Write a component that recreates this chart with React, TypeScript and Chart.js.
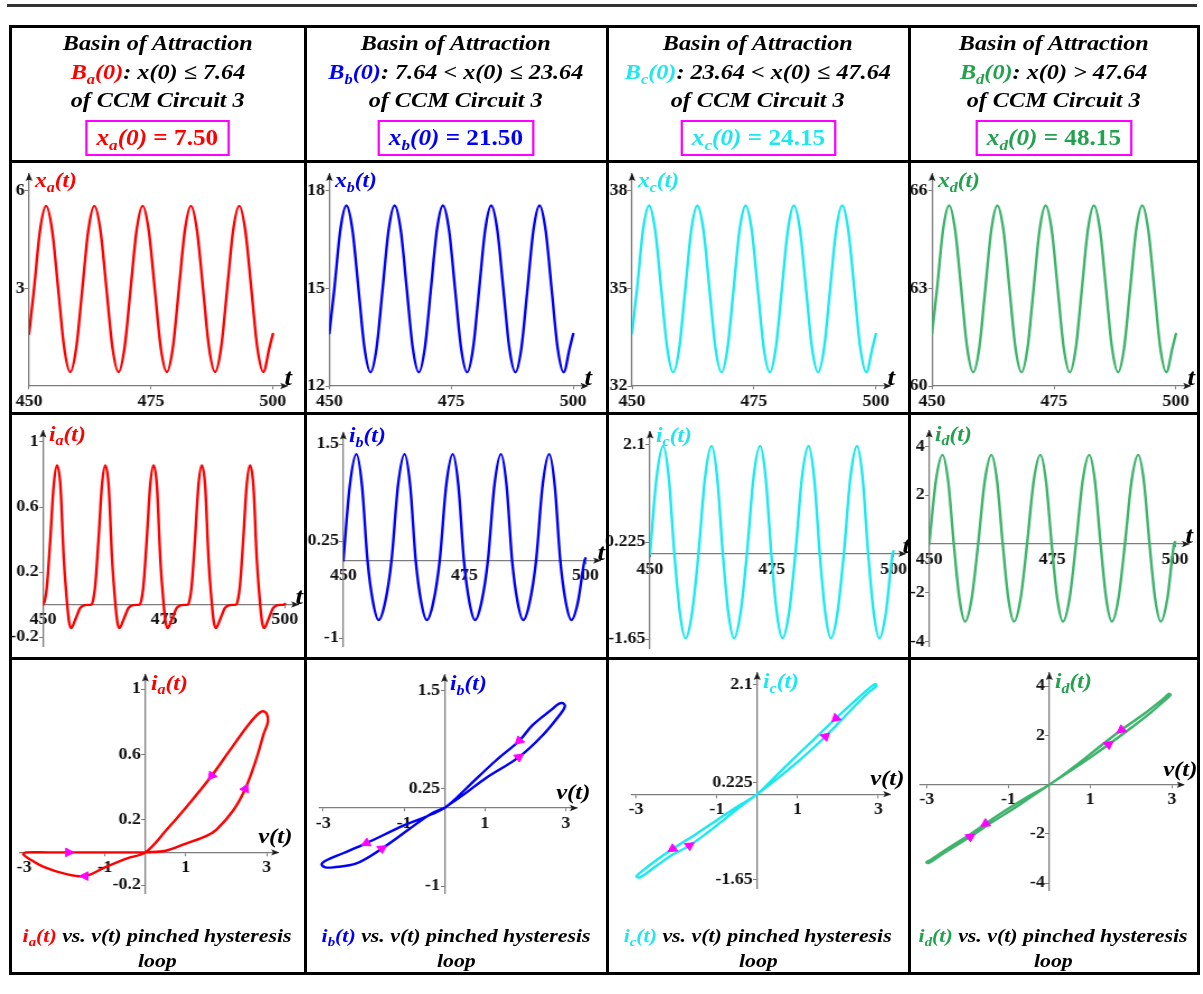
import React, { useEffect, useRef } from 'react';
import { Chart, registerables } from 'chart.js';

Chart.register(...registerables);

const SERIF = '"Liberation Serif", "Times New Roman", Times, serif';
const STRETCH = 1.12;
const PAGE_W = 1203;
const PAGE_H = 994;
const AXIS_GREY = '#7d7d7d';

const RED = '#ff0000';
const BLUE = '#0000f5';
const CYAN = '#1ee8ee';
const GREEN = '#3fb36c';
const GREEN_TEXT = '#23a14f';
const MAGENTA = '#ff00ff';

// ---------------- data ----------------
const letters = ['a', 'b', 'c', 'd'];
const basinRanges = [': x(0) \u2264 7.64', ': 7.64 < x(0) \u2264 23.64', ': 23.64 < x(0) \u2264 47.64', ': x(0) > 47.64'];
const initialValues = ['7.50', '21.50', '24.15', '48.15'];

const timeTicks = [450, 475, 500];
const voltTicks = [-3, -1, 1, 3];
const xTicksA = [3, 6];
const xTicksB = [12, 15, 18];
const xTicksC = [32, 35, 38];
const xTicksD = [60, 63, 66];
const iTicksA = [-0.2, 0.2, 0.6, 1];
const iTicksB = [-1, 0.25, 1.5];
const iTicksC = [-1.65, 0.225, 2.1];
const iTicksD = [-4, -2, 2, 4];

// state x(t), sampled at peaks, troughs, crossings and eighth periods
const tX = [
  450, 451.03, 452.26, 453.5, 454.74, 455.98, 457.21, 458.45, 459.69, 460.93, 462.16, 463.4, 464.64, 465.88,
  467.11, 468.35, 469.59, 470.83, 472.06, 473.3, 474.54, 475.78, 477.01, 478.25, 479.49, 480.73, 481.96, 483.2,
  484.44, 485.68, 486.91, 488.15, 489.39, 490.63, 491.86, 493.1, 494.34, 495.58, 496.81, 498.05, 499.29, 500,
];
const xA = [
  1.6, 2.99, 4.79, 5.54, 4.79, 2.99, 1.18, 0.43, 1.18, 2.99, 4.79, 5.54, 4.79, 2.99, 1.18, 0.43, 1.18, 2.99, 4.79,
  5.54, 4.79, 2.99, 1.18, 0.43, 1.18, 2.99, 4.79, 5.54, 4.79, 2.99, 1.18, 0.43, 1.18, 2.99, 4.79, 5.54, 4.79, 2.99,
  1.18, 0.43, 1.18, 1.6,
];
const xB = [
  13.62, 14.99, 16.8, 17.55, 16.8, 14.99, 13.17, 12.42, 13.17, 14.99, 16.8, 17.55, 16.8, 14.99, 13.17, 12.42, 13.17,
  14.99, 16.8, 17.55, 16.8, 14.99, 13.17, 12.42, 13.17, 14.99, 16.8, 17.55, 16.8, 14.99, 13.17, 12.42, 13.17, 14.99,
  16.8, 17.55, 16.8, 14.99, 13.17, 12.42, 13.17, 13.6,
];
const xC = [
  33.62, 34.99, 36.8, 37.55, 36.8, 34.99, 33.17, 32.42, 33.17, 34.99, 36.8, 37.55, 36.8, 34.99, 33.17, 32.42, 33.17,
  34.99, 36.8, 37.55, 36.8, 34.99, 33.17, 32.42, 33.17, 34.99, 36.8, 37.55, 36.8, 34.99, 33.17, 32.42, 33.17, 34.99,
  36.8, 37.55, 36.8, 34.99, 33.17, 32.42, 33.17, 33.6,
];
const xD = [
  61.62, 62.99, 64.8, 65.55, 64.8, 62.99, 61.17, 60.42, 61.17, 62.99, 64.8, 65.55, 64.8, 62.99, 61.17, 60.42, 61.17,
  62.99, 64.8, 65.55, 64.8, 62.99, 61.17, 60.42, 61.17, 62.99, 64.8, 65.55, 64.8, 62.99, 61.17, 60.42, 61.17, 62.99,
  64.8, 65.55, 64.8, 62.99, 61.17, 60.42, 61.17, 61.6,
];

// current i_a(t): narrow positive pulse, small negative dip, flat shoulder
const tIA = [
  450, 450.4, 450.8, 451.5, 452.2, 452.9, 453.6, 454.3, 455.0, 455.4, 455.8, 456.7, 457.7, 458.4, 459.2,
  459.97, 460.37, 460.77, 461.47, 462.17, 462.87, 463.57, 464.27, 464.97, 465.37, 465.77, 466.67, 467.67, 468.37, 469.17,
  469.94, 470.34, 470.74, 471.44, 472.14, 472.84, 473.54, 474.24, 474.94, 475.34, 475.74, 476.64, 477.64, 478.34, 479.14,
  479.91, 480.31, 480.71, 481.41, 482.11, 482.81, 483.51, 484.21, 484.91, 485.31, 485.71, 486.61, 487.61, 488.31, 489.11,
  489.88, 490.28, 490.68, 491.38, 492.08, 492.78, 493.48, 494.18, 494.88, 495.28, 495.68, 496.58, 497.58, 498.28, 499.08,
  499.85, 500,
];
const iA = [
  0, 0.03, 0.11, 0.4, 0.73, 0.855, 0.73, 0.28, 0, -0.11, -0.145, -0.09, -0.02, -0.006, -0.002,
  0, 0.03, 0.11, 0.4, 0.73, 0.855, 0.73, 0.28, 0, -0.11, -0.145, -0.09, -0.02, -0.006, -0.002,
  0, 0.03, 0.11, 0.4, 0.73, 0.855, 0.73, 0.28, 0, -0.11, -0.145, -0.09, -0.02, -0.006, -0.002,
  0, 0.03, 0.11, 0.4, 0.73, 0.855, 0.73, 0.28, 0, -0.11, -0.145, -0.09, -0.02, -0.006, -0.002,
  0, 0.03, 0.11, 0.4, 0.73, 0.855, 0.73, 0.28, 0, -0.11, -0.145, -0.09, -0.02, -0.006, -0.002,
  0, 0.004,
];

// currents i_b, i_c, i_d(t)
const tI = [
  450, 451.35, 452.7, 453.85, 455.0, 456.15, 457.3, 458.62, 459.95, 461.3, 462.65, 463.8, 464.95, 466.1, 467.25,
  468.57, 469.9, 471.25, 472.6, 473.75, 474.9, 476.05, 477.2, 478.52, 479.85, 481.2, 482.55, 483.7, 484.85, 486.0,
  487.15, 488.47, 489.8, 491.15, 492.5, 493.65, 494.8, 495.95, 497.1, 498.42, 499.8, 500,
];
const iB = [
  0, 0.97, 1.37, 0.97, 0, -0.54, -0.765, -0.54, 0, 0.97, 1.37, 0.97, 0, -0.54, -0.765, -0.54, 0, 0.97, 1.37, 0.97,
  0, -0.54, -0.765, -0.54, 0, 0.97, 1.37, 0.97, 0, -0.54, -0.765, -0.54, 0, 0.97, 1.37, 0.97, 0, -0.54, -0.765,
  -0.54, 0, 0.03,
];
const iC = [
  0, 1.47, 2.08, 1.47, 0, -1.15, -1.63, -1.15, 0, 1.47, 2.08, 1.47, 0, -1.15, -1.63, -1.15, 0, 1.47, 2.08, 1.47,
  0, -1.15, -1.63, -1.15, 0, 1.47, 2.08, 1.47, 0, -1.15, -1.63, -1.15, 0, 1.47, 2.08, 1.47, 0, -1.15, -1.63,
  -1.15, 0, 0.05,
];
const iD = [
  0, 2.58, 3.65, 2.58, 0, -2.25, -3.18, -2.25, 0, 2.58, 3.65, 2.58, 0, -2.25, -3.18, -2.25, 0, 2.58, 3.65, 2.58,
  0, -2.25, -3.18, -2.25, 0, 2.58, 3.65, 2.58, 0, -2.25, -3.18, -2.25, 0, 2.58, 3.65, 2.58, 0, -2.25, -3.18,
  -2.25, 0, 0.08,
];

// pinched hysteresis loops, listed in the order the trajectory runs
const loopAv = [0, 0.5, 1.02, 1.5, 1.76, 2.18, 2.47, 2.74, 2.93, 3.03, 3.0, 2.9, 2.75, 2.51, 2.1, 1.64, 1.02, 0.53, 0, -0.45, -0.99, -1.49, -2.0, -2.5, -2.8, -3.02, -2.95, -2.4, -1.6, -0.8, 0];
const loopAi = [0, 0.01, 0.056, 0.1, 0.14, 0.26, 0.39, 0.57, 0.73, 0.8, 0.85, 0.865, 0.84, 0.77, 0.63, 0.47, 0.28, 0.14, 0, -0.036, -0.09, -0.145, -0.13, -0.09, -0.05, -0.012, 0, 0, 0, 0, 0];
const loopBv = [0, 0.5, 1.02, 1.84, 2.43, 2.88, 2.98, 2.93, 2.82, 2.68, 2.18, 1.85, 1.28, 0.7, 0.3, 0, -0.45, -0.99, -1.93, -2.51, -2.92, -3.04, -2.95, -2.75, -2.18, -1.55, -0.87, -0.35, 0];
const loopBi = [0, 0.18, 0.38, 0.65, 0.93, 1.21, 1.3, 1.34, 1.33, 1.27, 1.06, 0.86, 0.61, 0.33, 0.13, 0, -0.11, -0.22, -0.45, -0.58, -0.67, -0.72, -0.76, -0.76, -0.71, -0.52, -0.27, -0.08, 0];
const loopCv = [0, 0.5, 1.0, 1.69, 2.3, 2.75, 2.95, 2.92, 2.6, 1.95, 1.4, 0.9, 0.4, 0, -0.5, -1.0, -1.5, -2.09, -2.5, -2.85, -2.99, -2.9, -2.5, -2.09, -1.68, -1.0, -0.5, 0];
const loopCi = [0, 0.3, 0.62, 1.11, 1.6, 1.95, 2.08, 2.12, 1.92, 1.46, 1.05, 0.68, 0.3, 0, -0.24, -0.5, -0.76, -1.05, -1.27, -1.48, -1.58, -1.6, -1.38, -1.16, -0.99, -0.6, -0.29, 0];
const loopDv = [0, 0.5, 1.0, 1.45, 2.0, 2.5, 2.85, 2.97, 2.93, 2.8, 2.3, 1.77, 1.2, 0.6, 0, -0.5, -1.0, -1.56, -2.0, -2.5, -2.9, -3.01, -2.95, -2.6, -1.94, -1.4, -0.9, -0.45, 0];
const loopDi = [0, 0.54, 1.1, 1.63, 2.3, 2.95, 3.45, 3.64, 3.69, 3.5, 2.85, 2.23, 1.5, 0.72, 0, -0.46, -0.97, -1.58, -2.08, -2.6, -3.05, -3.15, -3.18, -2.8, -2.12, -1.52, -1.0, -0.5, 0];

// direction markers on the loops
const markAv = [-1.9, -1.49, 1.64, 2.47];
const markAi = [0, -0.145, 0.47, 0.39];
const markAangle = [90, 270, 219, 24];
const markBv = [1.85, 1.84, -1.93, -1.55];
const markBi = [0.86, 0.65, -0.45, -0.52];
const markBangle = [226, 53, 244, 56];
const markCv = [1.95, 1.69, -2.09, -1.68];
const markCi = [1.46, 1.11, -1.05, -0.99];
const markCangle = [227, 47, 236, 55];
const markDv = [1.77, 1.45, -1.94, -1.56];
const markDi = [2.23, 1.63, -2.12, -1.58];
const markDangle = [233, 53, 57, 237];

// ---------------- layout ----------------
const COLS = [
  { l: 10, r: 305 },
  { l: 305, r: 607 },
  { l: 607, r: 909 },
  { l: 909, r: 1198 },
];
const BANDS: Record<string, [number, number]> = {
  head: [26, 161],
  x: [161, 413],
  i: [413, 658],
  loop: [658, 973],
};

type Pt = { x: number; y: number };
const zip = (xs: number[], ys: number[]): Pt[] => xs.map((x, k) => ({ x, y: ys[k] }));

type PanelSpec = {
  id: string;
  col: number;
  row: 'x' | 'i' | 'loop';
  xr: [number, number];
  xp: [number, number];
  yr: [number, number];
  yp: [number, number];
  xCross: number;
  yCross: number;
  xTicks: number[];
  yTicks: number[];
  points: Pt[];
  color: string;
  smooth: 'monotone' | 'loop';
  marks?: Pt[];
  markAngles?: number[];
};

const panels: PanelSpec[] = [
  { id: 'xa', col: 0, row: 'x', xr: [450, 502.9], xp: [29, 287], yr: [0, 6.52], yp: [386, 174], xCross: 450, yCross: 0, xTicks: timeTicks, yTicks: xTicksA, points: zip(tX, xA), color: RED, smooth: 'monotone' },
  { id: 'xb', col: 1, row: 'x', xr: [450, 502.9], xp: [329.3, 587.3], yr: [12, 18.52], yp: [386, 174], xCross: 450, yCross: 12, xTicks: timeTicks, yTicks: xTicksB, points: zip(tX, xB), color: BLUE, smooth: 'monotone' },
  { id: 'xc', col: 2, row: 'x', xr: [450, 502.9], xp: [632, 890], yr: [32, 38.52], yp: [386, 174], xCross: 450, yCross: 32, xTicks: timeTicks, yTicks: xTicksC, points: zip(tX, xC), color: CYAN, smooth: 'monotone' },
  { id: 'xd', col: 3, row: 'x', xr: [450, 502.9], xp: [932, 1190], yr: [60, 66.52], yp: [386, 174], xCross: 450, yCross: 60, xTicks: timeTicks, yTicks: xTicksD, points: zip(tX, xD), color: GREEN, smooth: 'monotone' },

  { id: 'ia', col: 0, row: 'i', xr: [450, 502.7], xp: [43, 298], yr: [-0.255, 1.07], yp: [646, 430.6], xCross: 450, yCross: 0, xTicks: timeTicks, yTicks: iTicksA, points: zip(tIA, iA), color: RED, smooth: 'monotone' },
  { id: 'ib', col: 1, row: 'i', xr: [450, 503], xp: [343.3, 600], yr: [-1.1, 1.65], yp: [646.1, 432.4], xCross: 450, yCross: 0, xTicks: timeTicks, yTicks: iTicksB, points: zip(tI, iB), color: BLUE, smooth: 'monotone' },
  { id: 'ic', col: 2, row: 'i', xr: [450, 502.4], xp: [650, 905.2], yr: [-1.82, 2.36], yp: [648.1, 431.5], xCross: 450, yCross: 0, xTicks: timeTicks, yTicks: iTicksC, points: zip(tI, iC), color: CYAN, smooth: 'monotone' },
  { id: 'id', col: 3, row: 'i', xr: [450, 502.75], xp: [929.2, 1188.6], yr: [-4.2, 4.65], yp: [646.5, 430.5], xCross: 450, yCross: 0, xTicks: timeTicks, yTicks: iTicksD, points: zip(tI, iD), color: GREEN, smooth: 'monotone' },

  { id: 'la', col: 0, row: 'loop', xr: [-3.1, 3.28], xp: [20, 278], yr: [-0.25, 1.09], yp: [893.2, 674.6], xCross: 0, yCross: 0, xTicks: voltTicks, yTicks: iTicksA, points: zip(loopAv, loopAi), color: RED, smooth: 'loop', marks: zip(markAv, markAi), markAngles: markAangle },
  { id: 'lb', col: 1, row: 'loop', xr: [-3.08, 3.27], xp: [320, 576.6], yr: [-1.09, 1.7], yp: [893.1, 675.1], xCross: 0, yCross: 0, xTicks: voltTicks, yTicks: iTicksB, points: zip(loopBv, loopBi), color: BLUE, smooth: 'loop', marks: zip(markBv, markBi), markAngles: markBangle },
  { id: 'lc', col: 2, row: 'loop', xr: [-3.12, 3.29], xp: [631.2, 890], yr: [-1.81, 2.33], yp: [888.3, 673.0], xCross: 0, yCross: 0, xTicks: voltTicks, yTicks: iTicksC, points: zip(loopCv, loopCi), color: CYAN, smooth: 'loop', marks: zip(markCv, markCi), markAngles: markCangle },
  { id: 'ld', col: 3, row: 'loop', xr: [-3.17, 3.29], xp: [919.9, 1183.6], yr: [-4.28, 4.53], yp: [890.1, 673.1], xCross: 0, yCross: 0, xTicks: voltTicks, yTicks: iTicksD, points: zip(loopDv, loopDi), color: GREEN, smooth: 'loop', marks: zip(markDv, markDi), markAngles: markDangle },
];

// ---------------- chart helpers ----------------
function axisOptions(min: number, max: number, ticks: number[], crossId: 'x' | 'y', crossValue: number, horizontal: boolean) {
  return {
    type: 'linear',
    min,
    max,
    position: { [crossId]: crossValue },
    afterBuildTicks: (s: any) => {
      s.ticks = ticks.map((v) => ({ value: v }));
    },
    afterFit: (s: any) => {
      if (horizontal) s.height = 0;
      else s.width = 0;
      s.paddingLeft = 0;
      s.paddingRight = 0;
      s.paddingTop = 0;
      s.paddingBottom = 0;
    },
    grid: { display: true, drawOnChartArea: false, drawTicks: true, tickLength: 3, color: AXIS_GREY, lineWidth: 1 },
    border: { display: true, color: AXIS_GREY, width: 1.3 },
    ticks: {
      autoSkip: false,
      maxRotation: 0,
      minRotation: 0,
      padding: 3,
      color: '#111',
      font: { family: SERIF, size: 16, weight: 'bold' },
      callback: (v: any) => (horizontal ? String(v) : String(v) + ' '),
    },
  };
}

function axisArrowsPlugin(xCross: number, yCross: number) {
  return {
    id: 'axisArrows',
    afterDraw(chart: any) {
      const { ctx } = chart;
      const xs = chart.scales.x;
      const ys = chart.scales.y;
      const axisY = ys.getPixelForValue(yCross);
      const axisX = xs.getPixelForValue(xCross);
      const xEnd = xs.getPixelForValue(xs.max);
      const yEnd = ys.getPixelForValue(ys.max);
      ctx.save();
      ctx.fillStyle = '#1a1a1a';
      ctx.beginPath();
      ctx.moveTo(xEnd + 1, axisY);
      ctx.lineTo(xEnd - 6, axisY - 3.2);
      ctx.lineTo(xEnd - 4.5, axisY);
      ctx.lineTo(xEnd - 6, axisY + 3.2);
      ctx.closePath();
      ctx.fill();
      ctx.beginPath();
      ctx.moveTo(axisX, yEnd - 1);
      ctx.lineTo(axisX - 3, yEnd + 7);
      ctx.lineTo(axisX, yEnd + 5.5);
      ctx.lineTo(axisX + 3, yEnd + 7);
      ctx.closePath();
      ctx.fill();
      ctx.restore();
    },
  };
}

function canvasBox(spec: PanelSpec) {
  const col = COLS[spec.col];
  const band = BANDS[spec.row];
  const left = Math.max(0, col.l - 12);
  const right = Math.min(PAGE_W, col.r + 12);
  const top = band[0] + 2;
  const bottom = band[1] - 2;
  return { left, right, top, bottom };
}

function ChartPanel({ spec }: { spec: PanelSpec }) {
  const ref = useRef<HTMLCanvasElement | null>(null);
  const { left, right, top, bottom } = canvasBox(spec);
  const cssW = right - left;
  const cssH = bottom - top;
  const pxW = Math.round(cssW / STRETCH);
  const k = cssW / pxW;

  useEffect(() => {
    const canvas = ref.current;
    if (!canvas) return;
    const toX = (px: number) => (px - left) / k;
    const padding = {
      left: toX(spec.xp[0]),
      right: pxW - toX(spec.xp[1]),
      top: spec.yp[1] - top,
      bottom: bottom - spec.yp[0],
    };
    const datasets: any[] = [];
    if (spec.marks) {
      datasets.push({
        data: spec.marks,
        showLine: false,
        pointStyle: 'triangle',
        pointRadius: 5,
        pointRotation: spec.markAngles,
        pointBackgroundColor: MAGENTA,
        pointBorderColor: MAGENTA,
        pointBorderWidth: 1,
      });
    }
    datasets.push({
      data: spec.points,
      showLine: true,
      borderColor: spec.color,
      borderWidth: 2.4,
      pointRadius: 0,
      fill: false,
      tension: spec.smooth === 'loop' ? 0.35 : 0,
      cubicInterpolationMode: spec.smooth === 'monotone' ? 'monotone' : 'default',
      borderJoinStyle: 'round',
      borderCapStyle: 'round',
    });
    const chart = new Chart(canvas, {
      type: 'scatter',
      data: { datasets },
      options: {
        animation: false,
        responsive: false,
        events: [],
        layout: { padding },
        plugins: { legend: { display: false }, tooltip: { enabled: false } },
        scales: {
          x: axisOptions(spec.xr[0], spec.xr[1], spec.xTicks, 'y', spec.yCross, true),
          y: axisOptions(spec.yr[0], spec.yr[1], spec.yTicks, 'x', spec.xCross, false),
        },
      } as any,
      plugins: [axisArrowsPlugin(spec.xCross, spec.yCross)],
    });
    return () => chart.destroy();
  }, [spec]);

  return (
    <canvas
      ref={ref}
      width={pxW}
      height={cssH}
      style={{ position: 'absolute', left, top, width: cssW, height: cssH }}
    />
  );
}

// ---------------- text helpers ----------------
function Stretch({ children, origin = 'center' }: { children: React.ReactNode; origin?: string }) {
  return (
    <span style={{ display: 'inline-block', transform: `scaleX(${STRETCH})`, transformOrigin: origin, whiteSpace: 'nowrap' }}>
      {children}
    </span>
  );
}

function Sub({ base, s }: { base: string; s: string }) {
  return (
    <>
      {base}
      <span style={{ fontSize: '0.68em', position: 'relative', top: '0.32em' }}>{s}</span>
    </>
  );
}

function CenterLine({ l, w, cy, h, size, children, italic = true }: any) {
  return (
    <div
      style={{
        position: 'absolute',
        left: l,
        width: w,
        top: cy - h / 2,
        height: h,
        lineHeight: `${h}px`,
        textAlign: 'center',
        fontFamily: SERIF,
        fontWeight: 'bold',
        fontStyle: italic ? 'italic' : 'normal',
        fontSize: size,
        color: '#000',
        whiteSpace: 'nowrap',
      }}
    >
      <Stretch>{children}</Stretch>
    </div>
  );
}

const textColors = [RED, BLUE, CYAN, GREEN_TEXT];

function pageX(spec: PanelSpec, v: number) {
  return spec.xp[0] + ((v - spec.xr[0]) / (spec.xr[1] - spec.xr[0])) * (spec.xp[1] - spec.xp[0]);
}
function pageY(spec: PanelSpec, v: number) {
  return spec.yp[0] + ((v - spec.yr[0]) / (spec.yr[1] - spec.yr[0])) * (spec.yp[1] - spec.yp[0]);
}

function AxisTitles({ spec }: { spec: PanelSpec }) {
  const letter = letters[spec.col];
  const color = textColors[spec.col];
  const yAxisX = pageX(spec, spec.xCross);
  const xAxisY = pageY(spec, spec.yCross);
  const yOffset = spec.row === 'x' ? 6 : spec.row === 'i' ? 3 : 8;
  const base = spec.row === 'x' ? 'x' : 'i';
  const yTitle = (
    <div
      style={{
        position: 'absolute',
        left: yAxisX + 6,
        top: spec.yp[1] + yOffset - 13,
        height: 26,
        lineHeight: '26px',
        fontFamily: SERIF,
        fontWeight: 'bold',
        fontStyle: 'italic',
        fontSize: 21,
        color,
        whiteSpace: 'nowrap',
      }}
    >
      <Stretch origin="left center">
        <Sub base={base} s={letter} />
        (t)
      </Stretch>
    </div>
  );
  const isLoop = spec.row === 'loop';
  const xTitle = (
    <div
      style={{
        position: 'absolute',
        left: spec.xp[1] + (isLoop ? -3 : 1) - 30,
        width: 60,
        top: xAxisY + (isLoop ? -16 : -9) - 14,
        height: 28,
        lineHeight: '28px',
        textAlign: 'center',
        fontFamily: SERIF,
        fontWeight: 'bold',
        fontStyle: 'italic',
        fontSize: isLoop ? 22 : 24,
        color: '#000',
        whiteSpace: 'nowrap',
      }}
    >
      <Stretch>{isLoop ? 'v(t)' : 't'}</Stretch>
    </div>
  );
  return (
    <>
      {yTitle}
      {xTitle}
    </>
  );
}

function Rule({ x, y, w, h, color = '#000' }: { x: number; y: number; w: number; h: number; color?: string }) {
  return <div style={{ position: 'absolute', left: x, top: y, width: w, height: h, background: color }} />;
}

export default function App() {
  const lineW = 3;
  const top = BANDS.head[0];
  const bottom = BANDS.loop[1];
  const leftEdge = COLS[0].l;
  const rightEdge = COLS[3].r;
  const hLines = [BANDS.head[0], BANDS.head[1], BANDS.x[1], BANDS.i[1], BANDS.loop[1]];
  const vLines = [COLS[0].l, COLS[0].r, COLS[1].r, COLS[2].r, COLS[3].r];

  return (
    <div
      style={{
        position: 'absolute',
        left: 0,
        top: 0,
        width: PAGE_W,
        height: PAGE_H,
        overflow: 'hidden',
        background: '#fff',
      }}
    >
      {panels.map((p) => (
        <ChartPanel key={p.id} spec={p} />
      ))}

      {/* page rule and table grid */}
      <Rule x={7} y={4} w={1190} h={2.5} color="#333" />
      {hLines.map((y, k) => (
        <Rule key={'h' + k} x={leftEdge - lineW / 2} y={y - lineW / 2} w={rightEdge - leftEdge + lineW} h={lineW} />
      ))}
      {vLines.map((x, k) => (
        <Rule key={'v' + k} x={x - lineW / 2} y={top - lineW / 2} w={lineW} h={bottom - top + lineW} />
      ))}

      {/* header cells */}
      {COLS.map((c, k) => {
        const w = c.r - c.l;
        return (
          <React.Fragment key={'head' + k}>
            <CenterLine l={c.l} w={w} cy={43} h={28} size={21.6}>
              Basin of Attraction
            </CenterLine>
            <CenterLine l={c.l} w={w} cy={72} h={28} size={21.6}>
              <span style={{ color: textColors[k] }}>
                <Sub base="B" s={letters[k]} />
                (0)
              </span>
              {basinRanges[k]}
            </CenterLine>
            <CenterLine l={c.l} w={w} cy={100} h={28} size={21.6}>
              of CCM Circuit 3
            </CenterLine>
            <div style={{ position: 'absolute', left: c.l, width: w, top: 120, height: 36, textAlign: 'center' }}>
              <span
                style={{
                  display: 'inline-block',
                  boxSizing: 'border-box',
                  height: 36,
                  lineHeight: '32px',
                  padding: '0 8px',
                  border: `2px solid ${MAGENTA}`,
                  transform: `scaleX(${STRETCH})`,
                  transformOrigin: 'center',
                  fontFamily: SERIF,
                  fontWeight: 'bold',
                  fontSize: 22.5,
                  color: textColors[k],
                  whiteSpace: 'nowrap',
                }}
              >
                <i>
                  <Sub base="x" s={letters[k]} />
                  (0)
                </i>{' '}
                = {initialValues[k]}
              </span>
            </div>
          </React.Fragment>
        );
      })}

      {/* axis titles */}
      {panels.map((p) => (
        <AxisTitles key={'t' + p.id} spec={p} />
      ))}

      {/* loop captions */}
      {COLS.map((c, k) => {
        const w = c.r - c.l;
        return (
          <React.Fragment key={'cap' + k}>
            <CenterLine l={c.l} w={w} cy={935} h={25} size={19.5}>
              <span style={{ color: textColors[k] }}>
                <Sub base="i" s={letters[k]} />
                (t)
              </span>{' '}
              vs. v(t) pinched hysteresis
            </CenterLine>
            <CenterLine l={c.l} w={w} cy={960} h={25} size={19.5}>
              loop
            </CenterLine>
          </React.Fragment>
        );
      })}
    </div>
  );
}
